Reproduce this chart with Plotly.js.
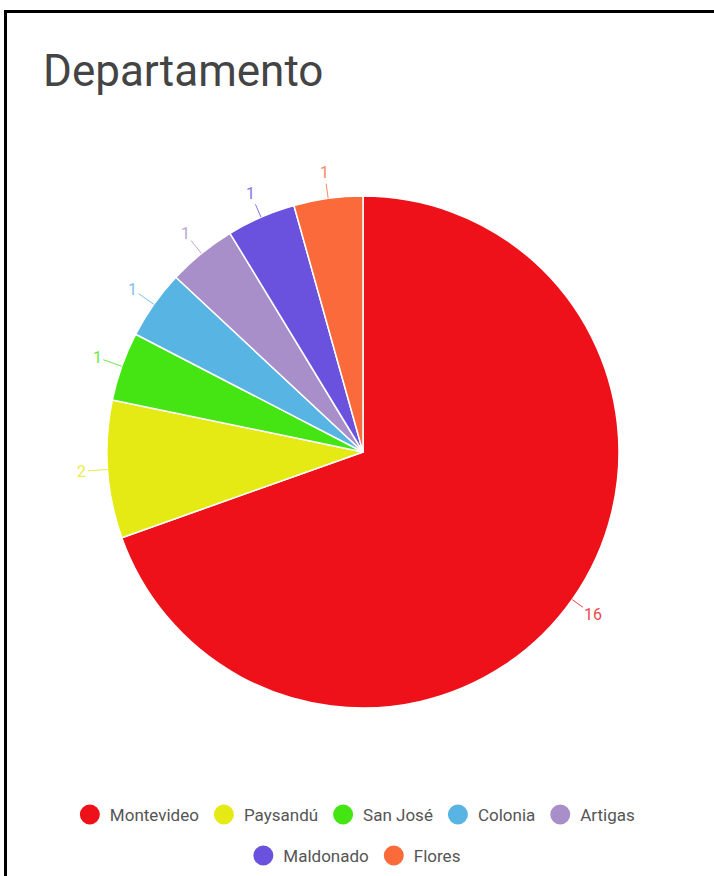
<!DOCTYPE html>
<html>
<head>
<meta charset="utf-8">
<script src="https://cdn.plot.ly/plotly-3.0.1.min.js"></script>
<style>
  html, body { margin: 0; padding: 0; background: #fff; }
  #chart { position: absolute; left: 0; top: 0; width: 714px; height: 876px; }
  #frame { position: absolute; left: 4px; top: 10px; width: 710px; height: 866px;
           border-top: 3px solid #000; border-left: 3px solid #000; box-sizing: border-box;
           pointer-events: none; z-index: 10; }
</style>
</head>
<body>
<div id="chart"></div>
<div id="frame"></div>
<script>
// ---- data ----
const departamentos = ["Montevideo", "Paysandú", "San José", "Colonia", "Artigas", "Maldonado", "Flores"];
const cantidades = [16, 2, 1, 1, 1, 1, 1];
const colores = ["#EF1119", "#E6EA14", "#44E512", "#58B4E2", "#A98FC9", "#6A52DE", "#FB6A3A"];
const tituloTexto = "Departamento";

// ---- geometry / style ----
const W = 714, H = 876;
const CX = 363, CY = 452, R = 256;
const LABEL_DIST = 26;

const pieTrace = {
  type: "pie",
  labels: departamentos,
  values: cantidades,
  sort: false,
  direction: "clockwise",
  rotation: 0,
  textinfo: "none",
  hoverinfo: "label+value+percent",
  showlegend: false,
  marker: { colors: colores, line: { color: "#ffffff", width: 1.5 } },
  domain: { x: [(CX - R) / W, (CX + R) / W], y: [1 - (CY + R) / H, 1 - (CY - R) / H] }
};

// legend traces (circle symbols)
const legendTraces = departamentos.map((name, i) => ({
  type: "scatter",
  mode: "markers",
  x: [null], y: [null],
  name: name,
  marker: { color: colores[i], size: 16, symbol: "circle", line: { color: colores[i], width: 4 } },
  showlegend: true,
  hoverinfo: "skip",
  legend: i < 5 ? "legend" : "legend2"
}));

// value labels with leader lines, computed from the data
const total = cantidades.reduce((a, b) => a + b, 0);
let acc = 0;
const annotations = cantidades.map((v, i) => {
  const mid = (acc + v / 2) / total * 2 * Math.PI;
  acc += v;
  const s = Math.sin(mid), c = Math.cos(mid);
  const px = CX + R * s, py = CY - R * c;
  return {
    xref: "paper", yref: "paper",
    x: px / W, y: 1 - py / H,
    ax: LABEL_DIST * s, ay: -LABEL_DIST * c,
    text: String(v),
    showarrow: true, arrowhead: 0, arrowwidth: 1, arrowcolor: colores[i],
    standoff: 0, startstandoff: 0,
    font: { family: "Roboto", size: 16, color: colores[i] },
    opacity: 0.8
  };
});

const legendCommon = {
  orientation: "h",
  xanchor: "center",
  yanchor: "middle",
  bgcolor: "rgba(0,0,0,0)",
  borderwidth: 0,
  font: { family: "Roboto", size: 17, color: "#555555" },
  itemsizing: "trace"
};

const layout = {
  width: W, height: H,
  margin: { l: 0, r: 0, t: 0, b: 0, autoexpand: false },
  paper_bgcolor: "#ffffff",
  plot_bgcolor: "#ffffff",
  title: {
    text: tituloTexto,
    font: { family: "Roboto", size: 44, color: "#444444" },
    x: 43 / W, xanchor: "left", xref: "paper",
    y: 1 - 71 / H, yanchor: "middle", yref: "container"
  },
  xaxis: { visible: false, domain: [0, 0.001] },
  yaxis: { visible: false, domain: [0, 0.001] },
  legend: Object.assign({}, legendCommon, { x: 0.497, y: 1 - 815 / H }),
  legend2: Object.assign({}, legendCommon, { x: 0.497, y: 1 - 856 / H }),
  annotations: annotations,
  showlegend: true
};

Plotly.newPlot("chart", [pieTrace].concat(legendTraces), layout, { displayModeBar: false });
</script>
</body>
</html>
